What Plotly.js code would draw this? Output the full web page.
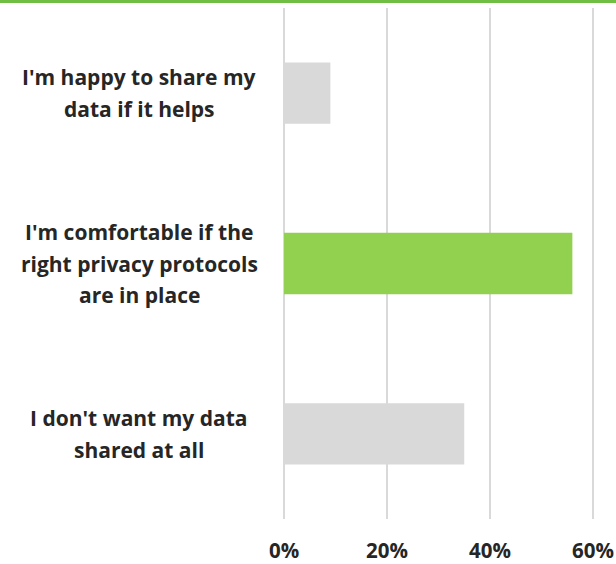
<!DOCTYPE html>
<html><head><meta charset="utf-8">
<script src="https://cdn.plot.ly/plotly-3.0.1.min.js"></script>
<style>html,body{margin:0;padding:0;background:#fff}#chart{width:616px;height:564px}</style>
</head><body><div id="chart"></div>
<script>
const categories = [
  ["I'm happy to share my", "data if it helps"],
  ["I'm comfortable if the", "right privacy protocols", "are in place"],
  ["I don't want my data", "shared at all"]
];
const values = [0.09, 0.56, 0.35];
const barColors = ["#D9D9D9", "#92D050", "#D9D9D9"];
const tickVals = [0, 0.2, 0.4, 0.6];
const tickText = ["0%", "20%", "40%", "60%"];

const catIds = categories.map((c, i) => "c" + i);
const W = 616, H = 564;
const margin = {l: 283, r: 22, t: 8, b: 45};
const plotW = W - margin.l - margin.r;
const plotH = H - margin.t - margin.b;
const lineGap = 31.5;
const xr = [-0.002, 0.602];
const labelCenterPx = 139;

const font = {family: "Open Sans, Liberation Sans, sans-serif", size: 21, color: "#262626", weight: "bold"};

const annotations = [];
categories.forEach((lines, i) => {
  const n = lines.length;
  lines.forEach((t, j) => {
    annotations.push({
      xref: "paper", yref: "y", x: (labelCenterPx - margin.l) / plotW,
      y: catIds[i], yshift: -((j - (n - 1) / 2) * lineGap),
      text: t, showarrow: false, xanchor: "center", yanchor: "middle",
      font: font
    });
  });
});

Plotly.newPlot("chart", [{
  type: "bar", orientation: "h",
  x: values, y: catIds,
  marker: {color: barColors},
  width: 0.36,
  hoverinfo: "none"
}], {
  width: W, height: H, margin: margin,
  paper_bgcolor: "#fff", plot_bgcolor: "#fff",
  showlegend: false,
  xaxis: {range: xr, tickvals: tickVals, ticktext: tickText,
    showgrid: true, gridcolor: "#D9D9D9", gridwidth: 2, zeroline: false,
    showline: false, ticks: "", ticklabelstandoff: 17,
    tickfont: {family: font.family, size: 20.5, color: "#262626", weight: "bold"}, fixedrange: true},
  yaxis: {type: "category", showticklabels: false,
    showgrid: false, zeroline: false, ticks: "", range: [2.5, -0.5]},
  annotations: annotations,
  shapes: [{type: "line", xref: "paper", yref: "paper",
    x0: -margin.l / plotW, x1: 1 + margin.r / plotW,
    y0: 1 + (margin.t - 1.5) / plotH, y1: 1 + (margin.t - 1.5) / plotH,
    line: {color: "#70BF44", width: 3}}]
}, {displayModeBar: false, staticPlot: true});
</script></body></html>
